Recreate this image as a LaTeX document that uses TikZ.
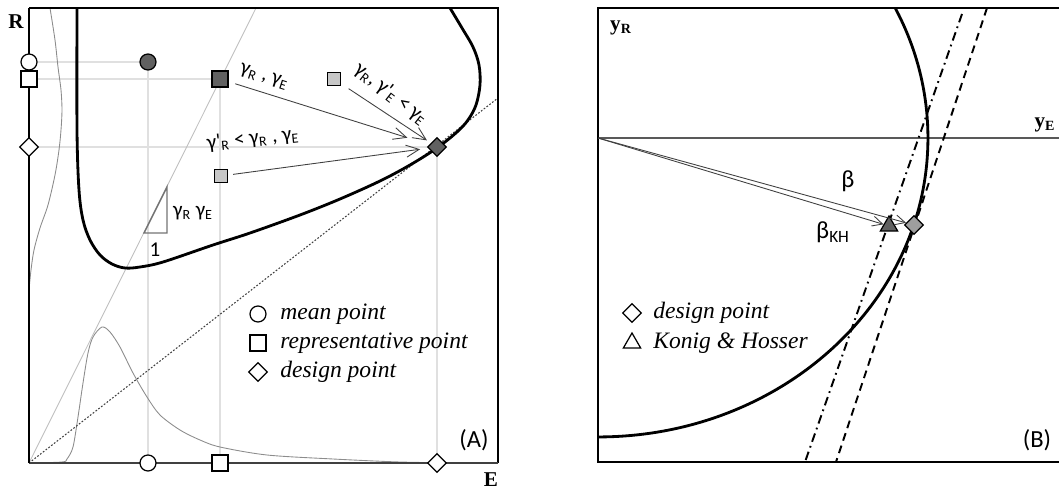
\documentclass[tikz,border=0pt]{standalone}
\usepackage{fontspec}
\setmainfont{Liberation Serif}
\newfontfamily\calfont{Carlito}
\usepackage{tikz}
\usetikzlibrary{shapes.geometric, arrows.meta}

\begin{document}
\begin{tikzpicture}[x=0.02cm, y=-0.02cm,
    mk/.style={draw=black, line width=0.7pt, inner sep=0pt},
    mkcirc/.style={mk, circle, minimum size=0.32cm},
    mksq/.style={mk, rectangle, minimum size=0.32cm},
    mksmall/.style={mk, rectangle, minimum size=0.26cm, fill=black!22},
    mkdia/.style={mk, diamond, minimum size=0.38cm},
    mktri/.style={mk, regular polygon, regular polygon sides=3, minimum size=0.4cm},
    guide/.style={black!12, line width=0.6pt},
    pdf/.style={black!45, line width=0.5pt},
    arr/.style={-{Straight Barb[length=2.6mm,width=2.4mm]}, black!75, line width=0.5pt},
    glab/.style={font=\calfont\fontsize{12}{12}\selectfont, inner sep=1pt},
    leg/.style={anchor=west, font=\itshape\fontsize{13.4}{14}\selectfont, inner sep=0pt},
    axlab/.style={font=\bfseries\fontsize{12}{12}\selectfont, inner sep=0pt},
    panel/.style={font=\calfont\fontsize{14}{14}\selectfont, inner sep=0pt}
]
    \useasboundingbox (0,0) rectangle (1059,490);

    % ---------- Panel (A) ----------
    \coordinate (oA) at (29,463);
    \coordinate (mean) at (148,62);
    \coordinate (rep) at (220,79);
    \coordinate (dsgn) at (437,147);
    \coordinate (meanR) at (29,62);
    \coordinate (repR) at (29,79);
    \coordinate (dsgnR) at (29,147);
    \coordinate (meanE) at (148,463);
    \coordinate (repE) at (220,463);
    \coordinate (dsgnE) at (437,463);

    % Draw guide lines
    \draw[guide] (meanR) -- (mean) -- (meanE);
    \draw[guide] (repR) -- (rep) -- (repE);
    \draw[guide] (dsgnR) -- (dsgn) -- (dsgnE);

    % Draw distributions along the axes
    \draw[pdf, smooth, tension=0.5] plot coordinates {(50,8) (55,40) (58,67) (61,90) (62,110) (61,130)
        (59,150) (55,175) (48,205) (40,228) (34,250) (31,270) (29,290)};
    \draw[pdf, smooth, tension=0.5] plot coordinates {(29,463) (62,462) (67,459) (73,447) (78,417)
        (83,383) (88,353) (93,337) (102,327) (110,332) (120,347) (133,373) (147,397) (160,415)
        (180,430) (200,440) (220,447) (267,455) (333,459) (400,462) (460,463)};

    % Draw slope line and triangle
    \draw[black!25, line width=0.5pt] (oA) -- (256,8);
    \draw[black!55, line width=0.8pt] (144,233) -- (167,233) -- (167,187) -- cycle;
    \node[glab, anchor=west] (slope) at (171,213) {γ\textsubscript{R} γ\textsubscript{E}};
    \node[glab] (one) at (155,250) {1};

    % Draw tangent line through design point
    \draw[black!75, line width=0.6pt, dash pattern=on 1pt off 1pt] (oA) -- (498,98);

    % Draw limit state curve
    \draw[line width=1.6pt, smooth, tension=0.55] plot coordinates {(77,8) (77,130) (79,190) (83,220)
        (90,240) (100,255) (112,264) (125,268) (140,267) (163,262) (213,245) (250,233) (300,215)
        (340,199) (380,181) (410,165) (437,148) (457,132) (468,120) (476,105) (480,85) (479,65)
        (473,47) (462,28) (450,8)};

    % Draw frame
    \draw[line width=1.6pt] (29,8) -- (498,8) -- (498,463);
    \draw[line width=1.6pt, black!75] (29,463) -- (498,463);
    \draw[line width=1.6pt] (29,8) -- (29,463);

    % Axis markers
    \node[mkcirc, fill=white] (meanRn) at (meanR) {};
    \node[mksq, fill=white] (repRn) at (repR) {};
    \node[mkdia, fill=white] (dsgnRn) at (dsgnR) {};
    \node[mkcirc, fill=white] (meanEn) at (meanE) {};
    \node[mksq, fill=white] (repEn) at (repE) {};
    \node[mkdia, fill=white] (dsgnEn) at (dsgnE) {};

    % Points
    \node[mkcirc, fill=black!62] (meanpt) at (mean) {};
    \node[mksq, fill=black!62] (reppt) at (rep) {};
    \node[mkdia, fill=black!62] (dsgnpt) at (dsgn) {};
    \node[mksmall] (repE2) at (334,79) {};
    \node[mksmall] (repR2) at (221,176) {};

    % Arrows to design point
    \draw[arr, shorten <=0.14cm, shorten >=0.62cm] (reppt) -- (dsgnpt.center);
    \draw[arr, shorten <=0.18cm, shorten >=0.24cm] (repE2) -- (dsgnpt.center);
    \draw[arr, shorten <=0.1cm, shorten >=0.34cm] (repR2) -- (dsgnpt.center);
    \node[glab, rotate=-18] (lab1) at (264,77) {γ\textsubscript{R} , γ\textsubscript{E}};
    \node[glab, rotate=-38] (lab2) at (391,94) {γ\textsubscript{R}, γ'\textsubscript{E} < γ\textsubscript{E}};
    \node[glab, rotate=6] (lab3) at (253,139) {γ'\textsubscript{R} < γ\textsubscript{R} , γ\textsubscript{E}};

    % Legend
    \node[mkcirc, fill=white] (legc) at (258,314) {};
    \node[leg] (legct) at (280,314) {mean point};
    \node[mksq, fill=white] (legs) at (258,343) {};
    \node[leg] (legst) at (280,343) {representative point};
    \node[mkdia, fill=white] (legd) at (258,372) {};
    \node[leg] (legdt) at (280,372) {design point};

    % Labels
    \node[axlab] (R) at (16,22) {R};
    \node[axlab] (E) at (491,480) {E};
    \node[panel] (A) at (474,440) {(A)};

    % ---------- Panel (B) ----------
    \coordinate (oB) at (598,138);

    % Draw axis
    \draw[black!65, line width=0.7pt] (oB) -- (1059,138);

    % Draw linearised limit states
    \draw[line width=1.1pt, dash pattern=on 5pt off 2.5pt on 1pt off 2.5pt] (962,14) -- (805,462);
    \draw[line width=1.1pt, dash pattern=on 4.5pt off 3pt] (987,8) -- (836,462);

    % Draw limit state curve
    \begin{scope}
        \clip (598,8) rectangle (1059,462);
        \draw[line width=1.6pt] (oB) ellipse [x radius=6.6cm, y radius=5.98cm];
    \end{scope}

    % Draw frame
    \draw[line width=1.6pt] (1059,8) -- (598,8) -- (598,462) -- (1059,462);

    % Points and arrows
    \node[mktri, fill=black!62] (kh) at (889,226) {};
    \node[mkdia, fill=black!38] (dpB) at (914,225) {};
    \draw[arr, -{Straight Barb[length=2mm,width=2mm]}] (oB) -- (dpB);
    \draw[arr, -{Straight Barb[length=2mm,width=2mm]}] (oB) -- (kh);
    \node[glab, font=\calfont\fontsize{14}{14}\selectfont] (beta) at (848,181) {β};
    \node[glab, font=\calfont\fontsize{14}{14}\selectfont] (betakh) at (833,232) {β\textsubscript{KH}};

    % Legend
    \node[mkdia, fill=white] (legdB) at (632,313) {};
    \node[leg] (legdBt) at (653,313) {design point};
    \node[mktri, fill=white] (legtB) at (632,343) {};
    \node[leg] (legtBt) at (653,343) {Konig \& Hosser};

    % Labels
    \node[axlab] (yR) at (621,28) {y\textsubscript{R}};
    \node[axlab] (yE) at (1045,125) {y\textsubscript{E}};
    \node[panel] (B) at (1037,440) {(B)};
\end{tikzpicture}
\end{document}
